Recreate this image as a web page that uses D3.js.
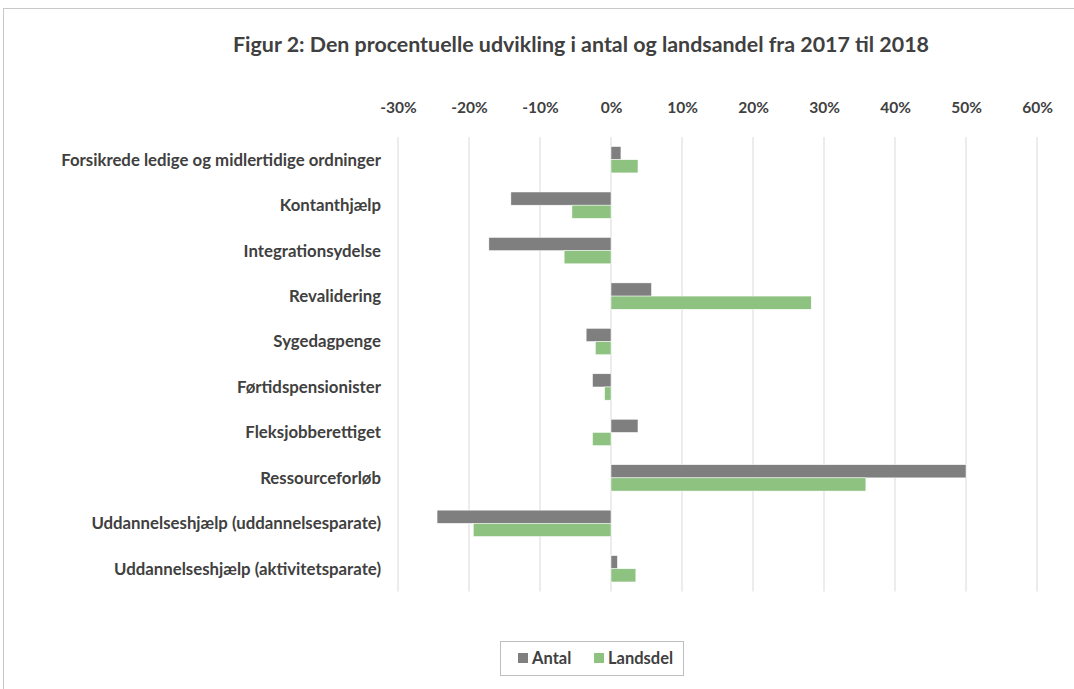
<!DOCTYPE html>
<head>
<meta charset="utf-8">
<style>
body { margin: 0; background: #fff; }
text { font-family: Lato, "Open Sans", sans-serif; font-weight: bold; fill: #404040; }
</style>
</head>
<body>
<script src="https://cdn.jsdelivr.net/npm/d3@7"></script>
<script>

var width = 1074, height = 689;

// data
var categories = [
  "Forsikrede ledige og midlertidige ordninger",
  "Kontanthjælp",
  "Integrationsydelse",
  "Revalidering",
  "Sygedagpenge",
  "Førtidspensionister",
  "Fleksjobberettiget",
  "Ressourceforløb",
  "Uddannelseshjælp (uddannelsesparate)",
  "Uddannelseshjælp (aktivitetsparate)"
];
var seriesNames = ["Antal", "Landsdel"];
var antal    = [0.014, -0.141, -0.172, 0.057, -0.035, -0.026, 0.038, 0.500, -0.245, 0.009];
var landsdel = [0.038, -0.055, -0.066, 0.282, -0.022, -0.009, -0.026, 0.359, -0.194, 0.035];
var tickValues = [-0.3, -0.2, -0.1, 0, 0.1, 0.2, 0.3, 0.4, 0.5, 0.6];
var colors = ["#7f7f7f", "#8dc280"];

var svg = d3.select("body").append("svg")
  .attr("width", width)
  .attr("height", height);

// chart frame
svg.append("rect")
  .attr("x", 3.5).attr("y", 8.5)
  .attr("width", 1100).attr("height", 700)
  .attr("fill", "#fff")
  .attr("stroke", "#c8c8c8");

svg.append("text")
  .attr("x", 581).attr("y", 52)
  .attr("text-anchor", "middle")
  .style("font-size", "21.4px")
  .text("Figur 2: Den procentuelle udvikling i antal og landsandel fra 2017 til 2018");

var x = d3.scaleLinear().domain([-0.3, 0.6]).range([398, 1037]);
var y = d3.scaleBand().domain(categories).range([137, 591.5])
  .paddingInner(0.42).paddingOuter(0.21);
var ys = d3.scaleBand().domain(seriesNames).range([0, y.bandwidth()]);

// gridlines
svg.append("g").selectAll("line")
  .data(tickValues)
  .enter().append("line")
  .attr("x1", function(d){ return x(d); })
  .attr("x2", function(d){ return x(d); })
  .attr("y1", 137).attr("y2", 591.5)
  .attr("stroke", "#d9d9d9")
  .attr("stroke-width", 1);

// top axis labels (plain hyphen like excel)
var pct = d3.format(".0%");
var xAxis = d3.axisTop(x).tickValues(tickValues).tickSize(0)
  .tickFormat(function(d){ return pct(d).replace("\u2212", "-"); });
var gx = svg.append("g").attr("transform", "translate(0,108)").call(xAxis);
gx.select(".domain").remove();
gx.selectAll("text").style("font-size", "15.5px").attr("fill", "#404040")
  .style("font-family", "Lato, sans-serif").style("font-weight", "bold")
  .attr("dy", "0.3em").attr("y", 0);

// category labels
var yAxis = d3.axisLeft(y).tickSize(0).tickPadding(0);
var gy = svg.append("g").attr("transform", "translate(381,0)").call(yAxis);
gy.select(".domain").remove();
gy.selectAll("text").style("font-size", "16.8px").attr("fill", "#404040")
  .style("font-family", "Lato, sans-serif").style("font-weight", "bold")
  .attr("dy", "0.35em");

// bars
var rows = categories.map(function(c, i){
  return {cat: c, vals: [{s: "Antal", v: antal[i]}, {s: "Landsdel", v: landsdel[i]}]};
});

var groups = svg.append("g").selectAll("g")
  .data(rows)
  .enter().append("g")
  .attr("transform", function(d){ return "translate(0," + y(d.cat) + ")"; });

groups.selectAll("rect")
  .data(function(d){ return d.vals; })
  .enter().append("rect")
  .attr("x", function(d){ return x(Math.min(0, d.v)); })
  .attr("y", function(d){ return ys(d.s); })
  .attr("width", function(d){ return Math.abs(x(d.v) - x(0)); })
  .attr("height", ys.bandwidth())
  .attr("fill", function(d, i){ return colors[i]; })
  .attr("stroke", "#fff")
  .attr("stroke-width", 0.5);

// legend
var lg = svg.append("g");
lg.append("rect")
  .attr("x", 500.5).attr("y", 641.5)
  .attr("width", 183).attr("height", 34)
  .attr("fill", "#fff").attr("stroke", "#bfbfbf");

var items = lg.selectAll("g.item")
  .data(seriesNames)
  .enter().append("g")
  .attr("class", "item")
  .attr("transform", function(d, i){ return "translate(" + [518, 594][i] + ",653)"; });

items.append("rect")
  .attr("width", 10).attr("height", 10)
  .attr("fill", function(d, i){ return colors[i]; });

items.append("text")
  .attr("x", 14).attr("y", 5)
  .attr("dy", "0.35em")
  .style("font-size", "16.5px")
  .text(function(d){ return d; });

</script>
</body>
